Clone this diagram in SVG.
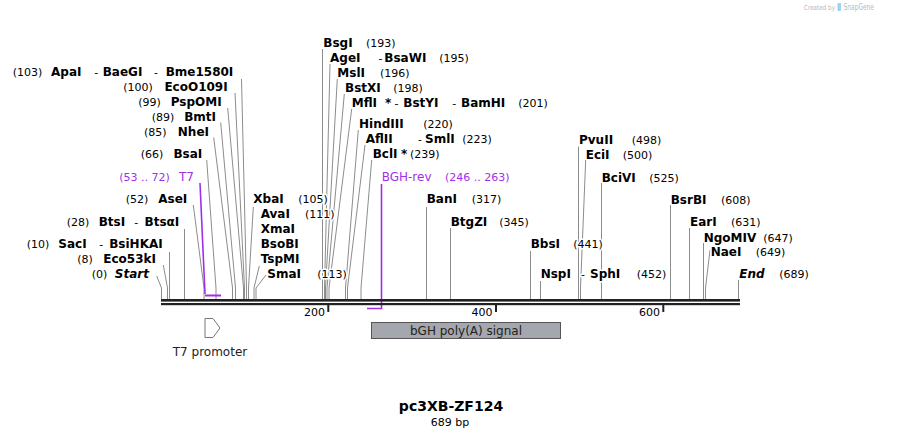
<svg xmlns="http://www.w3.org/2000/svg" width="901" height="438" viewBox="0 0 901 438">
<style>
text{font-family:"DejaVu Sans",Verdana,sans-serif;stroke:#fff;stroke-width:3;stroke-linejoin:round;paint-order:stroke}
.n{font-size:12px;font-weight:bold;fill:#000}
.i{font-size:12px;font-weight:bold;font-style:italic;fill:#000}
.p{font-size:11px;fill:#000}
.e{text-anchor:end}
.pu{font-size:12px;fill:#a030e8}
.pn{font-size:11px;fill:#a030e8}
.c{stroke:#8c8c8c;stroke-width:1;fill:none}
.pl{stroke:#a030e8;stroke-width:1.6;fill:none}
.t{font-size:11px;fill:#000;text-anchor:end;stroke:none}
.f{font-size:12px;fill:#222;stroke:none}
.lg{stroke:none;fill:#b8b8b8}
</style>

<g id="logo">
<text class="lg" x="804" y="10" font-size="7" textLength="31" lengthAdjust="spacingAndGlyphs">Created by</text>
<rect x="837.5" y="3" width="3.5" height="8" rx="1" fill="#9bd3f2"/>
<text class="lg" x="843.5" y="10" font-size="8.5" textLength="30.5" lengthAdjust="spacingAndGlyphs">SnapGene</text>
</g>

<g id="connectors">
<polyline class="c" points="241.5,79 246.5,288 246.5,299"/>
<polyline class="c" points="235,93 244.5,288 244.5,299"/>
<polyline class="c" points="227.7,108 243.5,288 243.5,299"/>
<polyline class="c" points="220.7,122.5 235.5,288 235.5,299"/>
<polyline class="c" points="213.7,137.5 232.5,288 232.5,299"/>
<polyline class="c" points="206.7,160 216,288 216,299"/>
<polyline class="c" points="193.3,205 204,288 204,299"/>
<line class="c" x1="184.5" y1="229" x2="184.5" y2="299"/>
<line class="c" x1="169.5" y1="252" x2="169.5" y2="299"/>
<polyline class="c" points="163.3,265 167.5,288 167.5,299"/>
<polyline class="c" points="156.7,276 161.5,288 161.5,299"/>
<polyline class="c" points="253.3,207 248.5,288 248.5,299"/>
<polyline class="c" points="259.3,266 254,288 254,299"/>
<polyline class="c" points="266,275 256,288 256,299"/>
<line class="c" x1="322.5" y1="49" x2="322.5" y2="299"/>
<polyline class="c" points="330,64 324.5,288 324.5,299"/>
<polyline class="c" points="337.3,79 325.5,288 325.5,299"/>
<polyline class="c" points="344.3,94 327,288 327,299"/>
<polyline class="c" points="351.7,109 329,288 329,299"/>
<polyline class="c" points="358.3,130 345.5,288 345.5,299"/>
<polyline class="c" points="365,145 347.5,288 347.5,299"/>
<polyline class="c" points="371.7,160 361,288 361,299"/>
<line class="c" x1="426.5" y1="207" x2="426.5" y2="299"/>
<line class="c" x1="450.5" y1="228" x2="450.5" y2="299"/>
<line class="c" x1="530.5" y1="251" x2="530.5" y2="299"/>
<line class="c" x1="540.5" y1="281" x2="540.5" y2="299"/>
<line class="c" x1="578.5" y1="146.5" x2="578.5" y2="299"/>
<polyline class="c" points="585.7,160 580.5,288 580.5,299"/>
<line class="c" x1="601.5" y1="183" x2="601.5" y2="299"/>
<line class="c" x1="670.5" y1="205" x2="670.5" y2="299"/>
<line class="c" x1="689.5" y1="228" x2="689.5" y2="299"/>
<line class="c" x1="703.5" y1="243" x2="703.5" y2="299"/>
<polyline class="c" points="710,250 705.5,288 705.5,299"/>
<line class="c" x1="738.5" y1="280" x2="738.5" y2="299"/>
<polyline class="pl" points="200,183 205,294"/>
<rect x="205" y="294.5" width="16" height="2" fill="#a030e8"/>
<polyline class="pl" points="381.5,184 381.5,308.5 367,308.5"/>
</g>

<g id="backbone">
<rect x="161" y="299" width="579" height="2.6" fill="#222"/>
<rect x="161" y="303" width="579" height="2.2" fill="#222"/>
<rect x="327.3" y="305" width="2" height="7" fill="#222"/>
<rect x="495" y="305" width="2" height="7" fill="#222"/>
<rect x="662.3" y="305" width="2" height="7" fill="#222"/>
<text class="t" x="325" y="316">200</text>
<text class="t" x="492.5" y="316">400</text>
<text class="t" x="660" y="316">600</text>
</g>

<g id="site-apai"><text class="p" x="12.7" y="75.5">(103)</text><text class="n" x="51" y="75.5">ApaI</text><text class="p" x="94.3" y="75.5">-</text><text class="n" x="102.7" y="75.5">BaeGI</text><text class="p" x="154" y="75.5">-</text><text class="n e" x="233.3" y="75.5">Bme1580I</text></g>
<g id="site-ecoo109i"><text class="p" x="123.3" y="90.5">(100)</text><text class="n e" x="227.7" y="90.5">EcoO109I</text></g>
<g id="site-pspomi"><text class="p" x="138.3" y="105.5">(99)</text><text class="n e" x="221.7" y="105.5">PspOMI</text></g>
<g id="site-bmti"><text class="p" x="151.7" y="120.5">(89)</text><text class="n e" x="216" y="120.5">BmtI</text></g>
<g id="site-nhei"><text class="p" x="144" y="135.5">(85)</text><text class="n e" x="209" y="135.5">NheI</text></g>
<g id="site-bsai"><text class="p" x="140.7" y="158">(66)</text><text class="n e" x="202.3" y="158">BsaI</text></g>
<g id="primer-t7"><text class="pn" x="119.3" y="180.5">(53 .. 72)</text><text class="pu e" x="194" y="180.5">T7</text></g>
<g id="site-asei"><text class="p" x="125.7" y="203">(52)</text><text class="n e" x="187.3" y="203">AseI</text></g>
<g id="site-btsi"><text class="p" x="66.7" y="225.5">(28)</text><text class="n" x="98.7" y="225.5">BtsI</text><text class="p" x="134.3" y="225.5">-</text><text class="n e" x="179.3" y="225.5">BtsαI</text></g>
<g id="site-saci"><text class="p" x="26.7" y="248">(10)</text><text class="n" x="58.3" y="248">SacI</text><text class="p" x="99.3" y="248">-</text><text class="n e" x="162.7" y="248">BsiHKAI</text></g>
<g id="site-eco53ki"><text class="p" x="77.3" y="263">(8)</text><text class="n e" x="156" y="263">Eco53kI</text></g>
<g id="site-start"><text class="p" x="91.7" y="278">(0)</text><text class="i e" x="149" y="278">Start</text></g>

<g id="site-xbai"><text class="n" x="253.3" y="203">XbaI</text><text class="p" x="298.3" y="203">(105)</text></g>
<g id="site-avai"><text class="n" x="260.7" y="218">AvaI</text><text class="p" x="305" y="218">(111)</text><text class="n" x="260.7" y="233">XmaI</text><text class="n" x="260.7" y="248">BsoBI</text><text class="n" x="260.7" y="263">TspMI</text></g>
<g id="site-smai"><text class="n" x="267.3" y="278">SmaI</text><text class="p" x="317.3" y="278">(113)</text></g>

<g id="site-bsgi"><text class="n" x="323.3" y="46.5">BsgI</text><text class="p" x="366" y="46.5">(193)</text></g>
<g id="site-agei"><text class="n" x="330" y="61.5">AgeI</text><text class="p" x="378.5" y="61.5">-</text><text class="n" x="384.3" y="61.5">BsaWI</text><text class="p" x="439.3" y="61.5">(195)</text></g>
<g id="site-msli"><text class="n" x="337.3" y="76.5">MslI</text><text class="p" x="380" y="76.5">(196)</text></g>
<g id="site-bstxi"><text class="n" x="345" y="91.5">BstXI</text><text class="p" x="393.3" y="91.5">(198)</text></g>
<g id="site-mfli"><text class="n" x="351.7" y="106.5">MflI</text><text class="n" x="385" y="106.5">*</text><text class="p" x="394.5" y="106.5">-</text><text class="n" x="403.3" y="106.5">BstYI</text><text class="p" x="452.3" y="106.5">-</text><text class="n" x="461" y="106.5">BamHI</text><text class="p" x="518.3" y="106.5">(201)</text></g>
<g id="site-hindiii"><text class="n" x="359" y="128">HindIII</text><text class="p" x="423.3" y="128">(220)</text></g>
<g id="site-aflii"><text class="n" x="365.7" y="143">AflII</text><text class="p" x="418" y="143">-</text><text class="n" x="425" y="143">SmlI</text><text class="p" x="462.3" y="143">(223)</text></g>
<g id="site-bcli"><text class="n" x="372.7" y="158">BclI</text><text class="n" x="401" y="158">*</text><text class="p" x="410" y="158">(239)</text></g>
<g id="primer-bgh-rev"><text class="pu" x="381.7" y="180.5">BGH-rev</text><text class="pn" x="445" y="180.5">(246 .. 263)</text></g>
<g id="site-bani"><text class="n" x="426.7" y="203">BanI</text><text class="p" x="471.7" y="203">(317)</text></g>
<g id="site-btgzi"><text class="n" x="450.7" y="225.5">BtgZI</text><text class="p" x="499.3" y="225.5">(345)</text></g>
<g id="site-bbsi"><text class="n" x="530.7" y="248">BbsI</text><text class="p" x="573.3" y="248">(441)</text></g>
<g id="site-nspi"><text class="n" x="540.7" y="278">NspI</text><text class="p" x="581" y="278">-</text><text class="n" x="590" y="278">SphI</text><text class="p" x="636.7" y="278">(452)</text></g>
<g id="site-pvuii"><text class="n" x="579" y="144">PvuII</text><text class="p" x="631.7" y="144">(498)</text></g>
<g id="site-ecii"><text class="n" x="585.7" y="159">EciI</text><text class="p" x="622.7" y="159">(500)</text></g>
<g id="site-bcivi"><text class="n" x="601.7" y="181.5">BciVI</text><text class="p" x="649.3" y="181.5">(525)</text></g>
<g id="site-bsrbi"><text class="n" x="670.7" y="204">BsrBI</text><text class="p" x="721" y="204">(608)</text></g>
<g id="site-eari"><text class="n" x="690" y="226">EarI</text><text class="p" x="731" y="226">(631)</text></g>
<g id="site-ngomiv"><text class="n" x="703.7" y="241.5">NgoMIV</text><text class="p" x="763.3" y="241.5">(647)</text></g>
<g id="site-naei"><text class="n" x="710.7" y="256">NaeI</text><text class="p" x="755.7" y="256">(649)</text></g>
<g id="site-end"><text class="i" x="739.3" y="278">End</text><text class="p" x="779.3" y="278">(689)</text></g>

<g id="feature-t7-promoter">
<polygon points="205,318.5 213,318.5 220,328 213,337.5 205,337.5" fill="#fff" stroke="#777" stroke-width="1"/>
<text class="f" x="210" y="356" text-anchor="middle">T7 promoter</text>
</g>
<g id="feature-bgh-polya">
<rect x="371.5" y="322.5" width="189" height="16" fill="#a4a8ae" stroke="#555" stroke-width="1"/>
<text class="f" x="466" y="334.5" text-anchor="middle">bGH poly(A) signal</text>
</g>

<g id="title">
<text x="451" y="411" text-anchor="middle" font-size="14" font-weight="bold" fill="#000" stroke="none">pc3XB-ZF124</text>
<text x="450" y="425.5" text-anchor="middle" font-size="11" fill="#000" stroke="none">689 bp</text>
</g>
</svg>
